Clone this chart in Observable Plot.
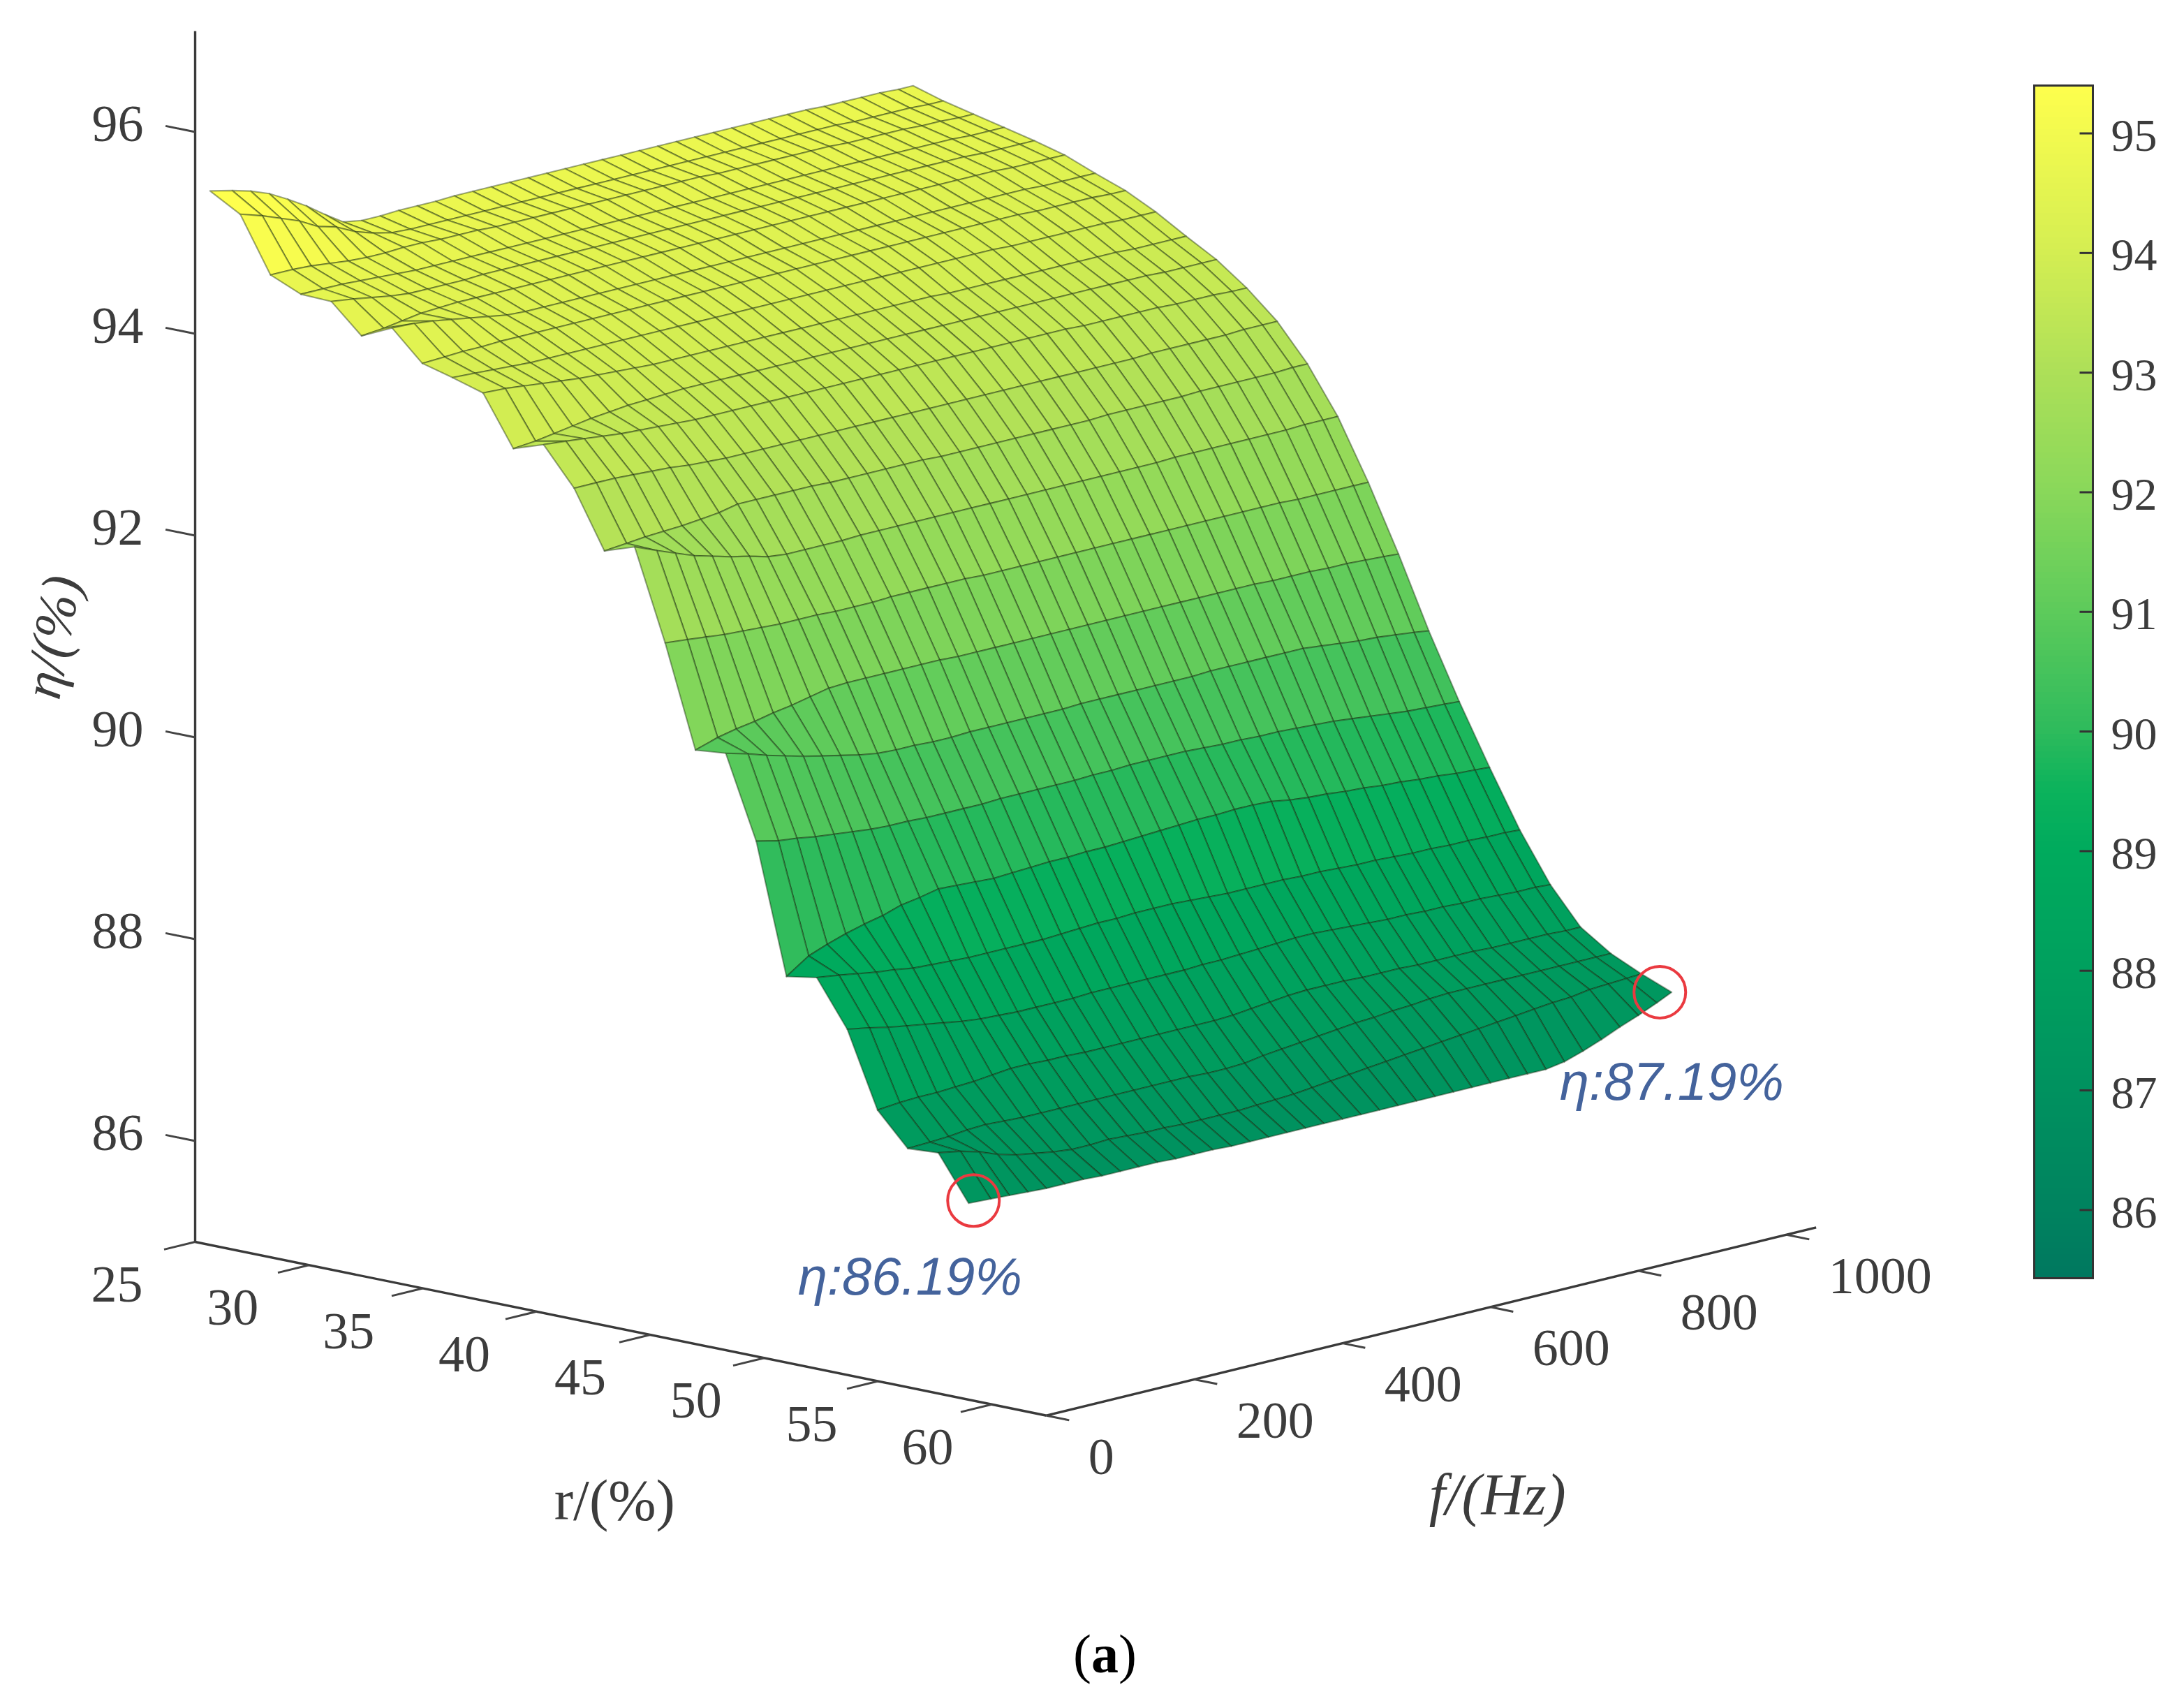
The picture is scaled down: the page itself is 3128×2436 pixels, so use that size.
<!DOCTYPE html>
<html>
<head>
<meta charset="utf-8">
<script src="https://cdn.jsdelivr.net/npm/d3@7"></script>
<script src="https://cdn.jsdelivr.net/npm/@observablehq/plot@0.6"></script>
<style>
html,body{margin:0;padding:0;background:#fff;}
#page{position:relative;width:3128px;height:2436px;overflow:hidden;background:#fff;}
#page svg{position:absolute;display:block;}
</style>
</head>
<body>
<div id="page"></div>
<script>
// Surface samples
const rValues = [25,26.33,27.66,29,30.33,31.66,33,34.33,35.66,37,38.33,39.66,41,42.33,43.66,45,46.33,47.66,49,50.33,51.66,53,54.33,55.66,57,58.33];
const fValues = [20,50,75,100,125,150,175,200,225,250,275,300,325,350,375,400,425,450,475,500,525,550,575,600,625,650,675,700,725,750,775,800,825,850,875,900,925,950,970];
const etaByRow = [
[95.38,95.33,95.28,95.21,95.11,95.00,94.87,94.75,94.72,94.72,94.73,94.73,94.73,94.74,94.74,94.74,94.74,94.74,94.74,94.74,94.74,94.74,94.74,94.74,94.74,94.74,94.74,94.74,94.74,94.74,94.74,94.74,94.74,94.73,94.73,94.73,94.73,94.72,94.72],
[95.21,95.14,95.07,95.00,94.90,94.85,94.76,94.70,94.66,94.65,94.65,94.65,94.65,94.65,94.65,94.65,94.65,94.65,94.65,94.65,94.65,94.65,94.65,94.65,94.65,94.65,94.65,94.65,94.65,94.65,94.65,94.65,94.65,94.64,94.64,94.64,94.64,94.63,94.63],
[94.67,94.67,94.66,94.64,94.62,94.61,94.61,94.62,94.62,94.61,94.61,94.61,94.60,94.60,94.60,94.60,94.60,94.60,94.60,94.60,94.60,94.60,94.60,94.60,94.59,94.59,94.59,94.59,94.59,94.59,94.59,94.58,94.58,94.58,94.58,94.57,94.57,94.56,94.56],
[94.54,94.54,94.54,94.53,94.52,94.51,94.50,94.50,94.50,94.50,94.50,94.50,94.50,94.50,94.50,94.50,94.50,94.50,94.50,94.50,94.50,94.50,94.50,94.50,94.50,94.50,94.50,94.50,94.50,94.50,94.50,94.50,94.50,94.50,94.50,94.50,94.49,94.49,94.49],
[94.53,94.50,94.47,94.44,94.42,94.42,94.42,94.42,94.43,94.43,94.43,94.43,94.43,94.43,94.43,94.43,94.43,94.43,94.43,94.43,94.43,94.43,94.43,94.43,94.43,94.43,94.43,94.43,94.43,94.43,94.43,94.43,94.43,94.43,94.43,94.42,94.42,94.42,94.42],
[94.25,94.27,94.30,94.33,94.34,94.35,94.35,94.35,94.35,94.35,94.35,94.35,94.35,94.35,94.35,94.35,94.35,94.35,94.35,94.35,94.35,94.35,94.35,94.35,94.35,94.35,94.35,94.35,94.35,94.35,94.35,94.35,94.35,94.35,94.35,94.34,94.34,94.34,94.34],
[94.39,94.38,94.36,94.33,94.30,94.27,94.24,94.23,94.23,94.23,94.23,94.23,94.23,94.23,94.23,94.23,94.23,94.23,94.23,94.23,94.23,94.23,94.23,94.23,94.23,94.23,94.23,94.23,94.23,94.23,94.23,94.23,94.23,94.23,94.23,94.22,94.22,94.22,94.22],
[94.10,94.11,94.12,94.12,94.13,94.13,94.13,94.13,94.13,94.13,94.13,94.13,94.13,94.13,94.13,94.13,94.13,94.13,94.13,94.13,94.13,94.13,94.13,94.13,94.13,94.13,94.13,94.13,94.13,94.13,94.13,94.13,94.13,94.12,94.12,94.12,94.12,94.11,94.11],
[94.02,94.01,94.00,93.99,93.98,93.98,93.98,93.98,93.98,93.98,93.98,93.98,93.98,93.98,93.98,93.98,93.98,93.98,93.98,93.98,93.98,93.98,93.98,93.98,93.98,93.98,93.98,93.98,93.98,93.98,93.97,93.97,93.97,93.97,93.97,93.97,93.96,93.96,93.96],
[93.93,93.92,93.90,93.88,93.86,93.84,93.83,93.82,93.81,93.80,93.80,93.80,93.80,93.80,93.80,93.80,93.80,93.80,93.80,93.80,93.80,93.80,93.80,93.80,93.80,93.79,93.79,93.79,93.79,93.79,93.79,93.79,93.79,93.79,93.79,93.78,93.78,93.78,93.78],
[93.44,93.46,93.49,93.52,93.55,93.57,93.59,93.60,93.61,93.62,93.62,93.62,93.62,93.62,93.62,93.62,93.62,93.62,93.62,93.62,93.62,93.62,93.62,93.62,93.62,93.62,93.62,93.62,93.62,93.62,93.62,93.62,93.62,93.62,93.62,93.61,93.61,93.61,93.61],
[93.54,93.52,93.50,93.48,93.46,93.45,93.44,93.43,93.42,93.42,93.42,93.42,93.42,93.42,93.42,93.42,93.42,93.42,93.42,93.42,93.42,93.42,93.42,93.42,93.42,93.42,93.42,93.42,93.42,93.41,93.41,93.41,93.41,93.41,93.40,93.40,93.40,93.39,93.39],
[93.17,93.17,93.17,93.16,93.15,93.14,93.12,93.11,93.10,93.10,93.10,93.10,93.10,93.10,93.10,93.10,93.10,93.10,93.10,93.10,93.10,93.10,93.10,93.10,93.10,93.10,93.10,93.10,93.10,93.10,93.10,93.11,93.11,93.11,93.11,93.11,93.12,93.12,93.12],
[92.61,92.63,92.65,92.66,92.67,92.69,92.71,92.75,92.75,92.75,92.75,92.75,92.74,92.74,92.74,92.74,92.74,92.74,92.73,92.73,92.73,92.73,92.73,92.73,92.73,92.73,92.73,92.74,92.74,92.74,92.74,92.74,92.75,92.75,92.75,92.75,92.75,92.76,92.76],
[92.71,92.62,92.55,92.48,92.43,92.38,92.34,92.29,92.27,92.27,92.27,92.27,92.28,92.28,92.28,92.28,92.28,92.28,92.28,92.28,92.28,92.28,92.28,92.28,92.28,92.28,92.28,92.28,92.28,92.29,92.29,92.29,92.29,92.29,92.29,92.29,92.30,92.30,92.30],
[91.82,91.80,91.78,91.76,91.75,91.74,91.73,91.73,91.73,91.72,91.72,91.72,91.73,91.73,91.73,91.73,91.73,91.72,91.72,91.72,91.72,91.72,91.72,91.72,91.72,91.72,91.72,91.72,91.72,91.72,91.72,91.72,91.72,91.72,91.71,91.71,91.71,91.71,91.71],
[90.82,90.89,90.93,90.96,91.00,91.03,91.07,91.11,91.12,91.12,91.12,91.12,91.12,91.12,91.11,91.11,91.11,91.11,91.11,91.11,91.11,91.11,91.11,91.11,91.11,91.11,91.11,91.11,91.11,91.11,91.11,91.10,91.10,91.10,91.09,91.09,91.08,91.07,91.06],
[90.85,90.79,90.73,90.68,90.63,90.59,90.55,90.51,90.48,90.47,90.47,90.46,90.46,90.47,90.47,90.47,90.47,90.47,90.47,90.48,90.48,90.48,90.48,90.48,90.48,90.48,90.49,90.49,90.49,90.49,90.49,90.49,90.47,90.45,90.43,90.42,90.40,90.38,90.36],
[90.04,89.99,89.97,89.94,89.92,89.90,89.88,89.87,89.87,89.86,89.86,89.86,89.86,89.87,89.87,89.87,89.87,89.87,89.88,89.88,89.89,89.89,89.89,89.89,89.88,89.87,89.87,89.86,89.86,89.85,89.84,89.83,89.81,89.79,89.77,89.75,89.74,89.73,89.72],
[88.76,88.91,88.98,89.04,89.09,89.13,89.19,89.22,89.26,89.25,89.24,89.23,89.24,89.25,89.26,89.26,89.27,89.27,89.28,89.29,89.30,89.31,89.32,89.32,89.33,89.33,89.32,89.29,89.27,89.26,89.24,89.23,89.21,89.20,89.18,89.17,89.15,89.14,89.13],
[88.81,88.78,88.75,88.72,88.70,88.67,88.66,88.65,88.64,88.64,88.64,88.64,88.64,88.65,88.66,88.67,88.67,88.68,88.68,88.68,88.67,88.66,88.65,88.65,88.65,88.65,88.64,88.64,88.63,88.62,88.62,88.61,88.60,88.60,88.59,88.59,88.58,88.58,88.57],
[88.36,88.32,88.28,88.25,88.22,88.19,88.16,88.14,88.13,88.12,88.12,88.12,88.12,88.13,88.13,88.13,88.13,88.13,88.13,88.14,88.14,88.15,88.16,88.17,88.18,88.18,88.17,88.16,88.15,88.14,88.14,88.13,88.13,88.12,88.12,88.11,88.10,88.10,88.09],
[87.62,87.64,87.65,87.65,87.66,87.67,87.69,87.71,87.71,87.70,87.70,87.69,87.69,87.69,87.69,87.69,87.69,87.69,87.69,87.70,87.72,87.74,87.76,87.77,87.77,87.77,87.76,87.76,87.76,87.75,87.75,87.75,87.75,87.74,87.74,87.74,87.74,87.73,87.73],
[87.30,87.31,87.32,87.34,87.35,87.34,87.33,87.33,87.33,87.33,87.33,87.33,87.33,87.33,87.33,87.33,87.32,87.32,87.33,87.36,87.38,87.40,87.42,87.44,87.46,87.47,87.49,87.50,87.52,87.53,87.53,87.53,87.53,87.53,87.53,87.53,87.53,87.53,87.53],
[87.32,87.28,87.23,87.16,87.11,87.08,87.05,87.03,87.03,87.04,87.03,87.02,87.02,87.01,87.01,87.01,87.01,87.02,87.03,87.04,87.06,87.08,87.10,87.12,87.14,87.16,87.18,87.20,87.22,87.24,87.26,87.28,87.30,87.32,87.33,87.36,87.37,87.38,87.39],
[86.88,86.87,86.86,86.85,86.84,86.84,86.84,86.83,86.83,86.83,86.83,86.82,86.82,86.82,86.81,86.81,86.81,86.81,86.81,86.81,86.81,86.81,86.81,86.81,86.81,86.81,86.81,86.81,86.81,86.81,86.81,86.81,86.84,86.90,86.97,87.05,87.12,87.20,87.27]
];
// Axis ticks and labels
const etaTicks = [86,88,90,92,94,96];
const rTicks = [25,30,35,40,45,50,55,60];
const fTicks = [0,200,400,600,800,1000];
const barTicks = [86,87,88,89,90,91,92,93,94,95];
const rAxisEnd = 62.4, fAxisEnd = 1040, etaBase = 85, etaTop = 97;
const barDomain = [85.43,95.40];
// Colour bar read as stops
const colorStops = [85.43,86,87,88,89,89.5,90,91,92,93,94,95.4];
const colorValues = ["#00785f","#00835f","#00925f","#00a05e","#00ab5d","#0cb35c","#2fbb5c","#5ecb5b","#8ad85a","#aee058","#d5ee52","#ffff4d"];
const flagged = [
  {row:25,col:38,label:"η:87.19%",cdx:-17,cdy:0,tdx:0,tdy:130},
  {row:25,col:0,label:"η:86.19%",cdx:7,cdy:-4,tdx:-84,tdy:106}
];

const W = 3128, H = 2436;
// View of the 3D box, as a parallel projection
const X0 = 279, Y0 = 1778, RX = 32.6, RY = 6.65, FX = 1.06, FY = -0.259, EY = 144.5;
const px = (r,f) => X0 + RX*(r-25) + FX*f;
const py = (r,f,e) => Y0 + RY*(r-25) + FY*f - EY*(e-etaBase);

const serif = "'Liberation Serif','Times New Roman',serif";
const sans = "'Liberation Sans',Arial,sans-serif";
const ink = "#3c3c3c";

const colorScale = {type:"linear", domain:colorStops, range:colorValues, clamp:true};

// Facets of the mesh, far ones first; each facet takes the colour of its first corner
const verts = [];
rValues.slice(0,-1).forEach((r,i) => {
  for (let j = fValues.length-2; j >= 0; j--) {
    const corners = [[i,j],[i,j+1],[i+1,j+1],[i+1,j]];
    for (const [a,b] of corners) {
      verts.push({id:`${i}-${j}`, x:px(rValues[a],fValues[b]), y:py(rValues[a],fValues[b],etaByRow[a][b]), eta:etaByRow[i][j]});
    }
  }
});

const seg = (r1,f1,e1,r2,f2,e2) => ({x1:px(r1,f1),y1:py(r1,f1,e1),x2:px(r2,f2),y2:py(r2,f2,e2)});
const axisLines = [
  seg(25,0,etaBase,25,0,etaTop),
  seg(25,0,etaBase,rAxisEnd,0,etaBase),
  seg(rAxisEnd,0,etaBase,rAxisEnd,fAxisEnd,etaBase)
];
const tickLines = [
  ...etaTicks.map(e => seg(25,0,e,23.7,0,e)),
  ...rTicks.map(r => seg(r,0,etaBase,r,-42,etaBase)),
  ...fTicks.map(f => seg(rAxisEnd,f,etaBase,rAxisEnd+1,f,etaBase))
];
const etaLabels = etaTicks.map(e => ({x:px(25,0), y:py(25,0,e), t:String(e)}));
const rLabels = rTicks.map(r => ({x:px(r,0)+(r-25)*0.57, y:py(r,0,etaBase), t:String(r)}));
const fLabels = fTicks.map(f => ({x:px(rAxisEnd,f), y:py(rAxisEnd,f,etaBase), t:String(f)}));
const flagPts = flagged.map(d => ({...d,
  x:px(rValues[d.row],fValues[d.col]),
  y:py(rValues[d.row],fValues[d.col],etaByRow[d.row][d.col])}));
const anchor = (r,f,e) => [{x:px(r,f), y:py(r,f,e)}];

const main = Plot.plot({
  width:W, height:H, margin:0,
  style:{background:"transparent", fontFamily:serif, color:ink},
  x:{domain:[0,W], range:[0,W], axis:null},
  y:{domain:[0,H], range:[0,H], axis:null},
  color:colorScale,
  marks:[
    Plot.line(verts,{x:"x",y:"y",z:"id",fill:"eta",stroke:"#16280c",strokeOpacity:0.42,strokeWidth:2.1,curve:"linear-closed"}),
    Plot.link(axisLines,{x1:"x1",y1:"y1",x2:"x2",y2:"y2",stroke:"#3a3a3a",strokeWidth:3.4}),
    Plot.link(tickLines,{x1:"x1",y1:"y1",x2:"x2",y2:"y2",stroke:"#444",strokeWidth:3}),
    Plot.text(etaLabels,{x:"x",y:"y",text:"t",dx:-111,dy:-11,fontSize:74,fill:ink}),
    Plot.text(rLabels,{x:"x",y:"y",text:"t",dx:-112,dy:62,fontSize:74,fill:ink}),
    Plot.text(fLabels,{x:"x",y:"y",text:"t",dx:60,dy:60,textAnchor:"start",fontSize:74,fill:ink}),
    Plot.text(anchor(43,0,etaBase),{x:"x",y:"y",text:()=>"r/(%)",dx:14,dy:252,fontSize:82,fill:ink}),
    Plot.text(anchor(rAxisEnd,600,etaBase),{x:"x",y:"y",text:()=>"f/(Hz)",dx:10,dy:270,fontSize:84,fontStyle:"italic",fill:ink}),
    Plot.text(anchor(25,0,90.8),{x:"x",y:"y",text:()=>"η/(%)",dx:-204,dy:-28,fontSize:78,fontStyle:"italic",rotate:-80,fill:ink}),
    Plot.dot(flagPts.map(d=>({x:d.x+d.cdx,y:d.y+d.cdy})),{x:"x",y:"y",r:37,stroke:"#ea3a40",strokeWidth:4,fill:"none"}),
    Plot.text(flagPts.map(d=>({...d,x:d.x+d.tdx,y:d.y+d.tdy})),{x:"x",y:"y",text:"label",fontFamily:sans,fontStyle:"italic",fontSize:76,fill:"#44639c"}),
    Plot.text(anchor(25,0,etaBase),{x:"x",y:"y",text:()=>"(a)",fontSize:78,fill:"#000",dx:1303,dy:592})
  ]
});
main.style.left = "0px"; main.style.top = "0px";

// "(a)": bold letter within plain brackets
d3.select(main).selectAll("text").filter(function(){return this.textContent==="(a)";})
  .html('(<tspan font-weight="bold">a</tspan>)');

const barLevels = d3.range(barDomain[0], barDomain[1], 0.05);
const bar = Plot.plot({
  width:215, height:1712, marginTop:2, marginBottom:2, marginLeft:2, marginRight:129,
  style:{background:"transparent", fontFamily:serif, color:ink},
  x:{domain:[0,1], axis:null},
  y:{domain:barDomain, axis:null},
  color:colorScale,
  marks:[
    Plot.rect(barLevels,{x1:()=>0,x2:()=>1,y1:d=>d,y2:d=>Math.min(d+0.05,barDomain[1]),fill:d=>d,shapeRendering:"crispEdges",inset:0}),
    Plot.ruleY(barTicks,{x1:()=>0.78,x2:()=>1,stroke:"#333",strokeWidth:3}),
    Plot.axisY({anchor:"right",ticks:barTicks,tickSize:0,tickPadding:26,dy:4,fontSize:66,label:null,tickFormat:d=>String(d),fill:ink}),
    Plot.frame({stroke:"#333",strokeWidth:3})
  ]
});
bar.style.left = "2911px"; bar.style.top = "120px";

const page = document.getElementById("page");
page.appendChild(main);
page.appendChild(bar);
</script>
</body>
</html>
